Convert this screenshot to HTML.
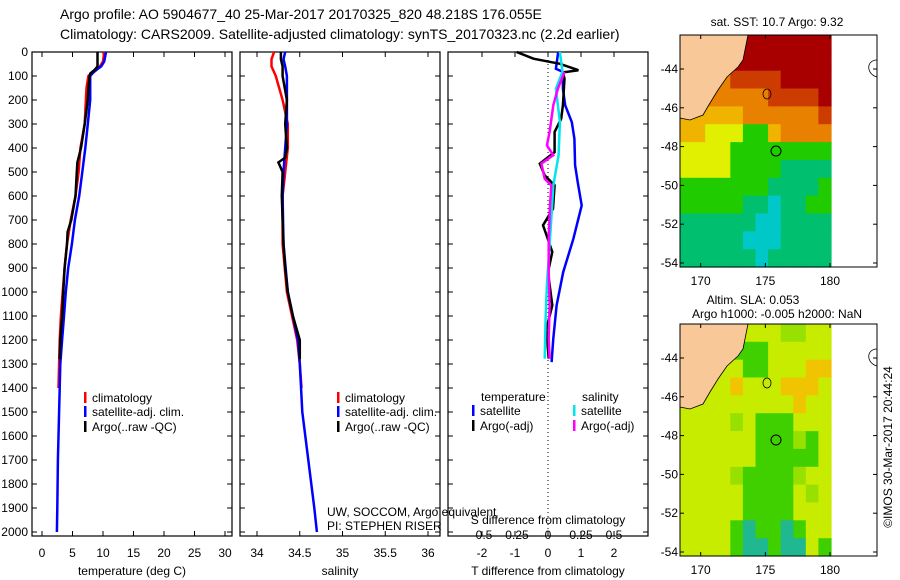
<!DOCTYPE html>
<html><head><meta charset="utf-8"><style>
body{margin:0;background:#fff;}
svg{display:block;font-family:"Liberation Sans",sans-serif;}
text{fill:#000;}
</style></head><body>
<svg id="c" width="900" height="580" viewBox="0 0 900 580">
<text x="60" y="19" font-size="14">Argo profile: AO 5904677_40 25-Mar-2017 20170325_820 48.218S 176.055E</text>
<text x="60" y="39" font-size="14">Climatology: CARS2009. Satellite-adjusted climatology: synTS_20170323.nc (2.2d earlier)</text>
</svg>
<script>
// ---------- data ----------
const depthTicks=[0,100,200,300,400,500,600,700,800,900,1000,1100,1200,1300,1400,1500,1600,1700,1800,1900,2000];
const tempTicks=[0,5,10,15,20,25,30];
const salTicks=[34,34.5,35,35.5,36];
const salTickLabels=["34","34.5","35","35.5","36"];
const tdTicks=[-2,-1,0,1,2];
const sdTicks=[-0.5,-0.25,0,0.25,0.5];
const sdTickLabels=["-0.5","-0.25","0","0.25","0.5"];

const tClimDepth=[0,40,60,80,100,150,200,300,400,500,600,700,800,900,1000,1100,1200,1300,1400];
const tClimVal=[10.2,10.0,9.5,8.7,7.6,7.3,7.2,7.0,6.3,6.0,5.5,4.7,4.1,3.7,3.4,3.1,2.9,2.8,2.7];
const tSatDepth=[0,40,60,80,100,150,200,300,400,500,600,700,800,900,1000,1100,1200,1300,1500,1700,1900,2000];
const tSatVal=[10.5,10.2,9.7,8.6,7.9,7.9,7.9,7.5,7.1,6.6,6.1,5.4,4.9,4.3,3.9,3.6,3.3,3.0,2.8,2.6,2.5,2.45];
const tArgoDepth=[0,40,60,75,90,100,150,200,300,400,460,500,600,700,750,800,900,1000,1100,1200,1280];
const tArgoVal=[9.1,9.1,9.1,8.6,7.9,7.8,7.6,7.5,7.0,6.4,5.8,5.7,5.5,4.8,4.2,4.1,3.7,3.5,3.3,3.0,2.9];

const sClimDepth=[0,30,60,100,200,300,400,500,600,800,1000,1200,1300,1400];
const sClimVal=[34.2,34.17,34.17,34.22,34.3,34.36,34.36,34.33,34.3,34.3,34.35,34.47,34.5,34.52];
const sSatDepth=[0,30,60,100,200,300,400,500,600,800,1000,1200,1300,1500,1700,1900,2000];
const sSatVal=[34.33,34.31,34.33,34.35,34.35,34.35,34.33,34.31,34.3,34.31,34.36,34.48,34.5,34.53,34.6,34.67,34.7];
const sArgoDepth=[0,30,60,100,200,300,400,440,460,500,600,700,800,900,1000,1100,1200,1280];
const sArgoVal=[34.28,34.28,34.3,34.3,34.35,34.33,34.35,34.33,34.25,34.3,34.29,34.3,34.31,34.33,34.36,34.42,34.5,34.5];

const tdSatDepth=[0,70,83,153,222,292,361,472,542,639,778,917,1056,1194,1292];
const tdSatVal=[0.31,0.24,0.45,0.45,0.52,0.72,0.8,0.82,0.9,1.02,0.77,0.46,0.26,0.16,0.11];
const tdArgoDepth=[0,28,49,76,85,111,222,278,333,417,465,514,556,653,722,750,833,917,1056,1153,1278];
const tdArgoVal=[-0.95,-0.44,0.36,0.92,0.45,0.5,0.45,0.4,0.2,0.2,-0.25,-0.1,0.2,0.15,-0.15,-0.08,0.13,0,0.13,-0.05,0.02];
const sdSatDepth=[0,83,153,292,430,556,694,833,972,1111,1278];
const sdSatVal=[0.09,0.11,0.06,0.09,0.08,0.04,0.025,0.008,-0.008,-0.018,-0.025];
const sdArgoDepth=[83,153,222,333,389,430,465,528,556,639,778,917,1056,1194,1278];
const sdArgoVal=[0.125,0.075,0.04,0.012,-0.008,0.04,-0.05,-0.025,0.025,0.015,0.005,0.005,0.012,0.005,0.012];

const mapLatTicks=[-44,-46,-48,-50,-52,-54];
const mapLonTicks=[170,175,180];
const sstGrid=["666666666666","666566666666","555455556666","444444455556","333334444445","332221134444","222211111111","222211110000","111111100001","1111100c0011","000000cc0000","00000ccc0000","000000c00000"];
const slaGrid=["bbaagaaabbaa","gaaagggaaaaa","gabaaggaaaoo","aaaaoaaaoooa","aaaaaaaaaoaa","aaaabagggaaa","aaaaaagggbga","aaaaaaggggga","aaaabggggbaa","aaaaaggggaba","aaaaaggggaaa","aaaagtggtgaa","aaaagttgttag"];

// ---------- helpers ----------
const NS="http://www.w3.org/2000/svg";
const svg=document.getElementById('c');
function mk(tag,attrs,parent){const e=document.createElementNS(NS,tag);for(const k in attrs)e.setAttribute(k,attrs[k]);(parent||svg).appendChild(e);return e;}
function txt(x,y,s,size,anchor,parent){const t=mk('text',{x:x,y:y,'font-size':size||12,'text-anchor':anchor||'start'},parent);t.textContent=s;return t;}
const yD=d=>52+d*0.24;
const xT=v=>42+v*6.1;
const xS=v=>257+(v-34)*85.5;
const xTD=v=>548+v*33;
const xSD=v=>548+v*4*33;

function stepLine(xs,ds,xf,color,w,name){
  let pts=[];
  for(let i=0;i<xs.length;i++){pts.push(xf(xs[i]).toFixed(1)+','+yD(ds[i]).toFixed(1));}
  const p=mk('polyline',{points:pts.join(' '),fill:'none',stroke:color,'stroke-width':w||2.5,'stroke-linejoin':'miter'});
  
  
  return p;
}
function frame(x0,name){
  const r=mk('rect',{x:x0,y:52,width:200,height:484,fill:'none',stroke:'#000','stroke-width':1.2});
  
  
}
function xticks(vals,labels,xf,y){
  vals.forEach((v,i)=>{const x=xf(v);
    mk('line',{x1:x,y1:52,x2:x,y2:57,stroke:'#000'});
    mk('line',{x1:x,y1:536,x2:x,y2:531,stroke:'#000'});
    const t=txt(x,y,labels[i],12,'middle');
    
    
  });
}
function yticks(x0){
  depthTicks.forEach(d=>{mk('line',{x1:x0,y1:yD(d),x2:x0+5,y2:yD(d),stroke:'#000'});mk('line',{x1:x0+200,y1:yD(d),x2:x0+195,y2:yD(d),stroke:'#000'});});
}

// ---------- panel 1: temperature ----------
frame(32,'temperature-panel');
yticks(32);
depthTicks.forEach(d=>{const t=txt(28,yD(d)+4,String(d),12,'end');
  
  });
xticks(tempTicks,tempTicks.map(String),xT,557);
stepLine(tClimVal,tClimDepth,xT,'#ff0000',2.5,'temperature-climatology-line');
stepLine(tSatVal,tSatDepth,xT,'#0000ff',2.5,'temperature-satellite-line');
stepLine(tArgoVal,tArgoDepth,xT,'#000000',2.5,'temperature-argo-line');
const xt1=txt(132,575,'temperature (deg C)',12,'middle');


function legend(x,y,color,label,name){
  const g=mk('g',{});
  
  
  mk('rect',{x:x,y:y-10,width:2.5,height:11,fill:color},g);
  txt(x+8,y,label,12,'start',g);
}
legend(84,402,'#ff0000','climatology','legend-climatology');
legend(84,416,'#0000ff','satellite-adj. clim.','legend-satellite-adj');
legend(84,431,'#000000','Argo(..raw -QC)','legend-argo');

// ---------- panel 2: salinity ----------
frame(240,'salinity-panel');
yticks(240);
xticks(salTicks,salTickLabels,xS,557);
stepLine(sClimVal,sClimDepth,xS,'#ff0000',2.5,'salinity-climatology-line');
stepLine(sSatVal,sSatDepth,xS,'#0000ff',2.5,'salinity-satellite-line');
stepLine(sArgoVal,sArgoDepth,xS,'#000000',2.5,'salinity-argo-line');
const xt2=txt(340,575,'salinity',12,'middle');

legend(337,402,'#ff0000','climatology','legend-sal-climatology');
legend(337,416,'#0000ff','satellite-adj. clim.','legend-sal-satellite-adj');
legend(337,431,'#000000','Argo(..raw -QC)','legend-sal-argo');
const cr1=txt(327,516,'UW, SOCCOM, Argo equivalent',12);

const cr2=txt(327,530,'PI: STEPHEN RISER',12);


// ---------- panel 3: differences ----------
frame(448,'difference-panel');
yticks(448);
mk('line',{x1:548,y1:52,x2:548,y2:536,stroke:'#000','stroke-dasharray':'1,3'});
xticks(tdTicks,tdTicks.map(String),xTD,557);
sdTicks.forEach((v,i)=>{const t=txt(xSD(v),539,sdTickLabels[i],12,'middle');
  });
const sdt=txt(548,524,'S difference from climatology',12,'middle');

const tdt=txt(548,575,'T difference from climatology',12,'middle');

stepLine(tdSatVal,tdSatDepth,xTD,'#0000ff',2.5,'t-diff-satellite-line');
stepLine(tdArgoVal,tdArgoDepth,xTD,'#000000',2.5,'t-diff-argo-line');
stepLine(sdSatVal,sdSatDepth,xSD,'#00e5ee',2.5,'s-diff-satellite-line');
stepLine(sdArgoVal,sdArgoDepth,xSD,'#ff00ff',2.5,'s-diff-argo-line');
const lt=txt(481,401,'temperature',12);
const ls=txt(582,401,'salinity',12);
legend(472,415,'#0000ff','satellite','legend-t-satellite');
legend(472,430,'#000000','Argo(-adj)','legend-t-argo');
legend(573,415,'#00e5ee','satellite','legend-s-satellite');
legend(573,430,'#ff00ff','Argo(-adj)','legend-s-argo');

// ---------- maps ----------
const lonX=lon=>700.7+(lon-170)*12.93;
const sstColors={'6':'#a80000','5':'#cc3c00','4':'#e88000','3':'#f0b400','2':'#e0f000','1':'#20cc00','0':'#00c070','c':'#00c8c8'};
const slaColors={'a':'#c8ec00','b':'#98e000','g':'#40d000','o':'#f0c400','t':'#20b890'};
function drawMap(y0,grid,colors,name){
  const latY=lat=>y0+34+(-44-lat)*-19.4*-1+ (0);
  const g=mk('g',{});
  
  
  const x0=680,x1=831,top=y0,bot=y0+232;
  const cw=(x1-x0)/12, ch=(bot-top)/grid.length;
  grid.forEach((row,r)=>{for(let c=0;c<row.length;c++){
    mk('rect',{x:(x0+c*cw).toFixed(1),y:(top+r*ch).toFixed(1),width:(cw+0.6).toFixed(1),height:(ch+0.6).toFixed(1),fill:colors[row[c]]},g);}});
  const o=y0-35;
  mk('polygon',{points:`680,${35+o} 748,${35+o} 743,${60+o} 738,${67+o} 727,${77+o} 718,${90+o} 710,${103+o} 703,${115+o} 690,${120+o} 680,${118+o}`,fill:'#f8c898',stroke:'#000','stroke-width':0.8},g);
  mk('circle',{cx:776,cy:151+o,r:5,fill:'none',stroke:'#000'},g);
  mk('ellipse',{cx:767,cy:94+o,rx:4,ry:5,fill:'none',stroke:'#000','stroke-width':0.8},g);
  mk('path',{d:`M877 ${60+o} C866 ${60+o},866 ${74+o},877 ${77+o}`,fill:'none',stroke:'#000','stroke-width':0.8},g);
  mk('rect',{x:680,y:y0,width:197,height:232,fill:'none',stroke:'#000','stroke-width':1},g);
  mapLatTicks.forEach(lat=>{const y=y0+34+(-44-lat)*(-19.4)*-1;
    const yy=y0+34+(lat+44)*-19.4;
    mk('line',{x1:680,y1:yy,x2:684,y2:yy,stroke:'#000'},g);
    mk('line',{x1:877,y1:yy,x2:873,y2:yy,stroke:'#000'},g);
    txt(678,yy+4,String(lat),12,'end',g);});
  mapLonTicks.forEach(lon=>{const x=lonX(lon);
    mk('line',{x1:x,y1:y0,x2:x,y2:y0+4,stroke:'#000'},g);
    mk('line',{x1:x,y1:y0+232,x2:x,y2:y0+228,stroke:'#000'},g);
    txt(x,y0+250,String(lon),12,'middle',g);});
}
drawMap(35,sstGrid,sstColors,'sst-map');
drawMap(324,slaGrid,slaColors,'sla-map');
const m1=txt(777,26,'sat. SST: 10.7 Argo: 9.32',12,'middle');
const m2=txt(753,304,'Altim. SLA: 0.053',12,'middle');
const m3=txt(777,318,'Argo h1000: -0.005 h2000: NaN',12,'middle');
const cp=txt(0,0,'©IMOS 30-Mar-2017 20:44:24',12,'middle');
cp.setAttribute('transform','translate(892,447) rotate(-90)');

</script>
</body></html>
